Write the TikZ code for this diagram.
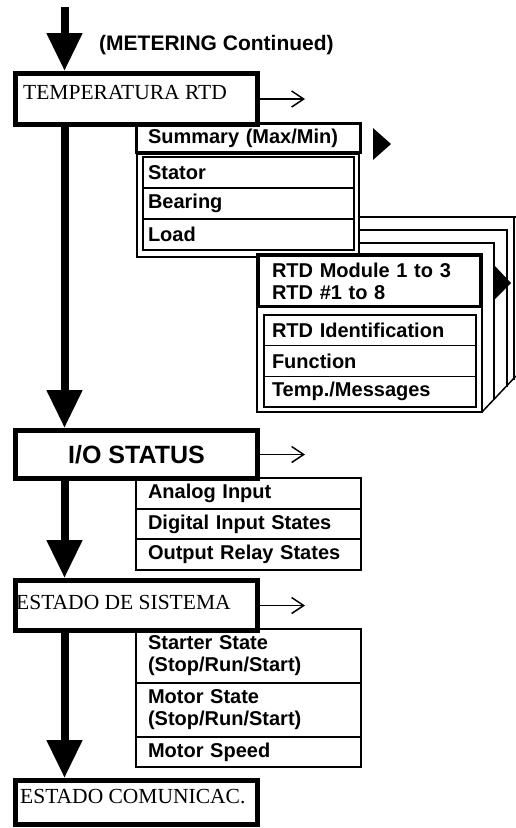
\documentclass[tikz,border=0pt]{standalone}
\usepackage{fontspec}
\setmainfont{Liberation Serif}
\setsansfont{Liberation Sans}
\usetikzlibrary{arrows.meta}

\begin{document}
\begin{tikzpicture}[
    x=1pt, y=-1pt,
    flow/.style={line width=8pt, -{Triangle[width=34pt, length=38pt]}},
    side/.style={line width=1.5pt, -{Straight Barb[length=12pt, width=16pt]}},
    menu/.style={draw, line width=5pt, minimum width=242pt, inner sep=0pt},
    menutext/.style={font=\fontsize{21.5}{24}\selectfont, anchor=west, inner sep=0pt},
    item/.style={draw, line width=1.5pt, outer sep=0pt, inner ysep=0pt, align=left,
                 font=\sffamily\bfseries\fontsize{20}{22}\selectfont, text width=#1},
    pages/.style={line width=1.5pt},
  ]
  \useasboundingbox (0,0) rectangle (515,828);

  % ============================================================
  % Top: coming from METERING
  % ============================================================
  \coordinate (top) at (64.5,7);
  \node[font=\sffamily\bfseries\fontsize{21}{24}\selectfont, anchor=west, inner sep=0pt]
    (meter) at (99,45) {(METERING Continued)};

  % ============================================================
  % TEMPERATURA RTD
  % ============================================================
  \node[menu, minimum height=51pt] (temp) at (136.5,99) {};
  \node[menutext] (temptxt) at (23,93) {TEMPERATURA RTD};
  \draw[flow] (top) -- (temp.north -| top);
  \draw[side] (temp.east) -- ++(45,0);

  % Summary + Stator/Bearing/Load
  \node[item=201pt, line width=3pt, inner xsep=11.5pt, minimum height=29pt]
    (summary) at (248.5,138) {Summary (Max/Min)};
  \fill (373,128) -- (391,144) -- (373,160) -- cycle;
  \node[draw, pages, minimum width=222pt, minimum height=103pt] (tempgrp) at (248,205.5) {};
  \foreach \i/\t in {0/Stator, 1/Bearing, 2/Load} {
    \node[item=201pt, inner xsep=5pt, minimum height=31pt] (st\i) at (248.5,172.5+\i*31) {\t};
  }

  % RTD modules (stacked pages)
  \draw[pages] (359,217) -- (516,217);
  \draw[pages] (514,217) -- (514,380);
  \draw[pages] (359,230) -- (507,230) -- (507,387);
  \draw[pages] (359,243) -- (494,243) -- (494,400);
  \draw[pages] (482,412) -- (516,376);
  \node[draw, pages, fill=white, minimum width=225pt, minimum height=158pt] (rtdgrp) at (369.5,333) {};
  \node[item=195pt, line width=3pt, inner xsep=13.5pt, minimum height=51pt]
    (rtdhead) at (369.5,281) {RTD Module 1 to 3\\RTD \#1 to 8};
  \fill (494,265) -- (511,283) -- (494,300) -- cycle;
  \node[item=196pt, inner xsep=8pt, minimum height=30.7pt] (rtd0) at (370,330.3) {RTD Identification};
  \node[item=196pt, inner xsep=8pt, minimum height=30.7pt] (rtd1) at (370,361) {Function};
  \node[item=196pt, inner xsep=8pt, minimum height=30.7pt] (rtd2) at (370,391.7) {Temp./Messages};

  % ============================================================
  % I/O STATUS
  % ============================================================
  \node[menu, minimum height=48pt, font=\sffamily\bfseries\fontsize{25}{28}\selectfont]
    (io) at (136.5,454.5) {I/O STATUS};
  \draw[flow] (temp.south -| top) -- (io.north -| top);
  \draw[side] (io.east) -- ++(45,0);

  \foreach \i/\t in {0/Analog Input, 1/Digital Input States, 2/Output Relay States} {
    \node[item=201pt, line width=2pt, inner xsep=12pt, minimum height=30.7pt]
      (io\i) at (248.5,493.3+\i*30.7) {\t};
  }

  % ============================================================
  % ESTADO DE SISTEMA
  % ============================================================
  \node[menu, minimum height=50pt] (sis) at (136.5,605.5) {};
  \node[menutext] (sistxt) at (16,602) {ESTADO DE SISTEMA};
  \draw[flow] (io.south -| top) -- (sis.north -| top);
  \draw[side] (sis.east) -- ++(45,0);

  \node[item=201pt, line width=2pt, inner xsep=12pt, minimum height=54pt]
    (sis0) at (248.5,656) {Starter State\\(Stop/Run/Start)};
  \node[item=201pt, line width=2pt, inner xsep=12pt, minimum height=54pt]
    (sis1) at (248.5,710) {Motor State\\(Stop/Run/Start)};
  \node[item=201pt, line width=2pt, inner xsep=12pt, minimum height=30pt]
    (sis2) at (248.5,752) {Motor Speed};

  % ============================================================
  % ESTADO COMUNICAC.
  % ============================================================
  \node[menu, minimum height=44pt] (com) at (136.5,802.5) {};
  \node[menutext] (comtxt) at (20,797) {ESTADO COMUNICAC.};
  \draw[flow] (sis.south -| top) -- (com.north -| top);

\end{tikzpicture}
\end{document}
